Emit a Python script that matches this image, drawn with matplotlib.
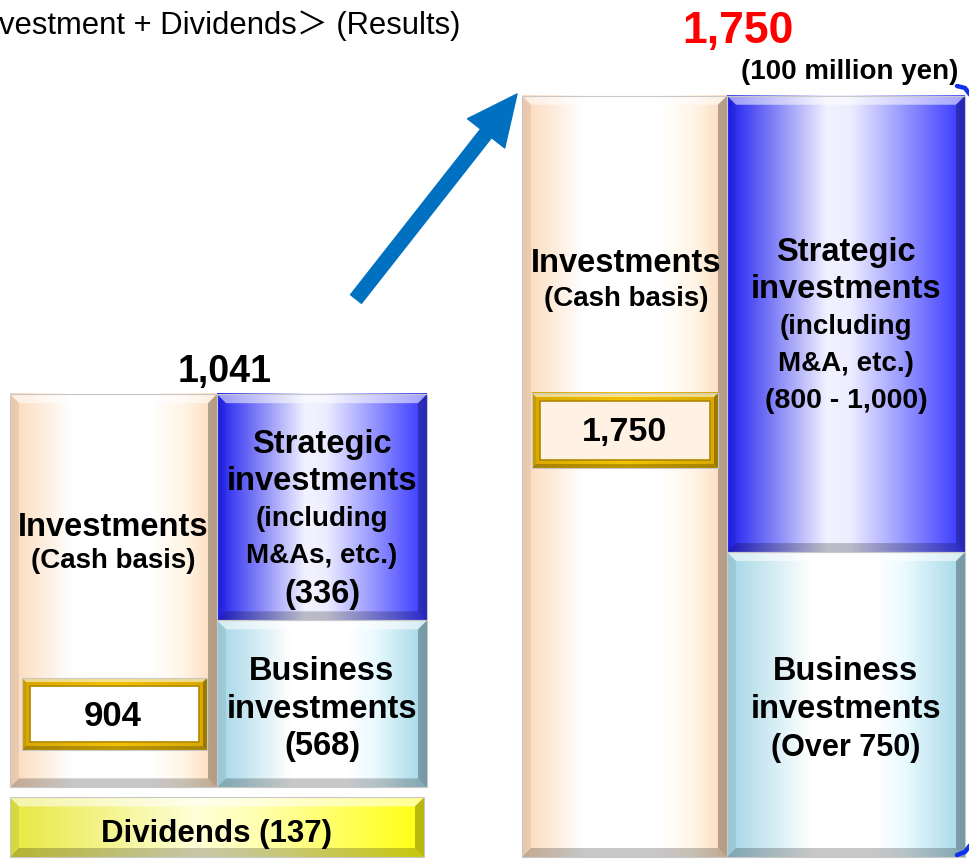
import numpy as np
import matplotlib
matplotlib.use("Agg")
import matplotlib.pyplot as plt
from matplotlib.colors import LinearSegmentedColormap
from matplotlib.patches import Polygon, Rectangle, FancyArrowPatch

plt.rcParams['font.family'] = ['Liberation Sans', 'Noto Sans CJK JP', 'DejaVu Sans']

# values in 100 million yen
left_total = 1041
left_invest = 904
left_business = 568
left_strategic = 336
dividends = 137
right_invest = 1750
right_business = "Over 750"
right_strategic = "800 - 1,000"
# where business/strategic split sits in the picture (value units, not to scale)
split_drawn = [384, 701]

S = 0.435          # pixels per unit
H = 859
def yv(p):         # picture row -> value units
    return (857 - p) / S
def ty(p):         # text rows, nudged for matplotlib's centre
    return yv(p + 4)

fig = plt.figure(figsize=(9.7, 8.59), dpi=100)
ax = fig.add_axes([0, 0, 1, 1])
ax.axis('off')

peach = [(0, '#FCD8B8'), (0.3, '#FFFFFF'), (0.68, '#FFFFFF'), (0.85, '#FFF4E4'), (1, '#FCD8B8')]
blue = [(0, '#1E1EF0'), (0.42, '#F2F2FF'), (0.52, '#EDEDFF'), (1, '#3434FF')]
cyan = [(0, '#A2D6E6'), (0.35, '#FFFFFF'), (0.62, '#FFFFFF'), (0.75, '#EAFAFF'), (1, '#A2D6E6')]
yellow = [(0, '#E8E840'), (0.45, '#FFFFD8'), (0.6, '#FFFFB0'), (1, '#FFFF10')]
gold = [(0, '#D8A800'), (0.5, '#F2C200'), (1, '#D8A800')]

def bevel_box(x0, x1, y0, y1, stops, b=9, z=1):
    cm = LinearSegmentedColormap.from_list('g', stops)
    row = cm(np.linspace(0, 1, 256))[None, :, :]
    ax.imshow(row, extent=(x0, x1, y0, y1), aspect='auto', interpolation='bilinear', zorder=z)
    by = b / S
    sides = [
        ([(x0, y1), (x1, y1), (x1 - b, y1 - by), (x0 + b, y1 - by)], 'white', 0.55),
        ([(x0, y0), (x1, y0), (x1 - b, y0 + by), (x0 + b, y0 + by)], 'black', 0.22),
        ([(x0, y0), (x0 + b, y0 + by), (x0 + b, y1 - by), (x0, y1)], 'black', 0.07),
        ([(x1, y0), (x1 - b, y0 + by), (x1 - b, y1 - by), (x1, y1)], 'black', 0.28),
    ]
    for pts, c, a in sides:
        ax.add_patch(Polygon(pts, closed=True, fc=c, ec='none', alpha=a, zorder=z + 0.1))
    ax.add_patch(Rectangle((x0, y0), x1 - x0, y1 - y0, fill=False, ec='#C8C8C8', lw=0.8, zorder=z + 0.2))

def gold_box(x0, x1, y0, y1, inner, z=3):
    bevel_box(x0, x1, y0, y1, gold, b=4, z=z)
    f = 8
    ax.add_patch(Rectangle((x0 + f, y0 + f / S), x1 - x0 - 2 * f, y1 - y0 - 2 * f / S,
                           fc=inner, ec='#B08800', lw=1.2, zorder=z + 0.5))

bold = dict(fontweight='bold', ha='center', va='center', color='black', zorder=6)

# left column: dividends + investments
base = dividends + 23
bevel_box(10, 424, 0, dividends, yellow)
bevel_box(10, 217, base, base + left_invest, peach)
bevel_box(217, 427, base, base + split_drawn[0], cyan)
bevel_box(217, 427, base + split_drawn[0], base + left_invest, blue)

# right column
bevel_box(522, 727, 0, right_invest, peach)
bevel_box(727, 965, 0, split_drawn[1], cyan)
bevel_box(727, 965, split_drawn[1], right_invest, blue)

gold_box(22, 207, yv(750), yv(678), '#FFFFFF')
gold_box(532, 718, yv(468), yv(393), '#FFF2E4')

# labels
ax.text(-1, ty(22), "vestment + Dividends＞ (Results)", ha='left', va='center', fontsize=22.3, zorder=6)
ax.text(225, ty(368), f"{left_total:,}", fontsize=27, **bold)
ax.text(738, ty(27), f"{right_invest:,}", fontsize=32, **{**bold, 'color': '#FF0000'})
ax.text(958, ty(68), "(100 million yen)", fontsize=20, **{**bold, 'ha': 'right'})

ax.text(113, ty(523), "Investments", fontsize=23.5, **bold)
ax.text(113, ty(557), "(Cash basis)", fontsize=20, **bold)
ax.text(113, ty(713), f"{left_invest:,}", fontsize=25, **bold)

for txt, py, fs in [("Strategic", 440, 23.5), ("investments", 478, 23.5), ("(including", 515, 20),
                    ("M&As, etc.)", 552, 20), (f"({left_strategic})", 590, 23.5),
                    ("Business", 667, 23.5), ("investments", 705, 23.5), (f"({left_business})", 743, 23.5)]:
    ax.text(322, ty(py), txt, fontsize=fs, **bold)

ax.text(217, ty(830), f"Dividends ({dividends})", fontsize=22.5, **bold)

ax.text(626, ty(259), "Investments", fontsize=23.5, **bold)
ax.text(626, ty(295), "(Cash basis)", fontsize=20, **bold)
ax.text(625, ty(428), f"{right_invest:,}", fontsize=24.5, **bold)

for txt, py, fs in [("Strategic", 248, 23.5), ("investments", 286, 23.5), ("(including", 323, 20),
                    ("M&A, etc.)", 360, 20), (f"({right_strategic})", 397, 20.5),
                    ("Business", 667, 23.5), ("investments", 705, 23.5), (f"({right_business})", 744, 22)]:
    ax.text(846, ty(py), txt, fontsize=fs, **bold)

# growth arrow
arr = FancyArrowPatch((356, yv(299)), (517, yv(94)),
                      arrowstyle="simple,head_length=36,head_width=34,tail_width=10",
                      mutation_scale=1, shrinkA=0, shrinkB=0, color='#0070C0', zorder=5)
ax.add_patch(arr)

# bracket at right edge (mostly beyond the crop)
bx = [957, 965, 971, 971, 965, 957]
by = [yv(86), yv(88), yv(96), yv(844), yv(852), yv(855)]
ax.plot(bx, by, color='#1030F0', lw=3.2, solid_capstyle='round', zorder=5)

ax.set_xlim(0, 970)
ax.set_ylim(yv(H), yv(0))
fig.savefig("out.png", dpi=100)
